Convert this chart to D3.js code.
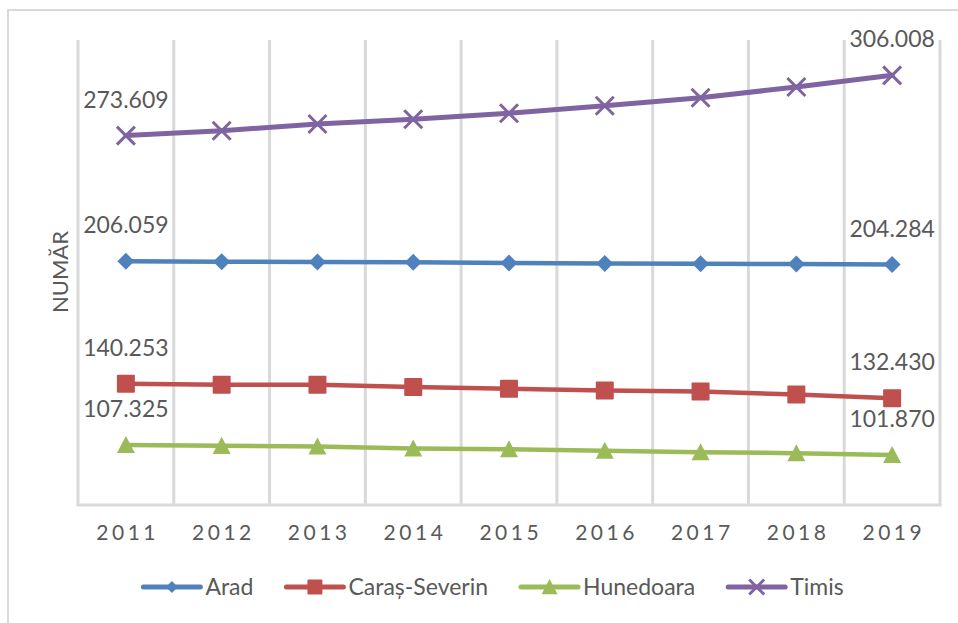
<!DOCTYPE html>
<html>
<head>
<meta charset="utf-8">
<script src="https://cdn.jsdelivr.net/npm/d3@7"></script>
<style>
  body { margin: 0; background: #ffffff; }
  text { font-family: Lato, "Liberation Sans", sans-serif; fill: #595959; }
</style>
</head>
<body>
<div id="chart"></div>
<script>

var years = ["2011","2012","2013","2014","2015","2016","2017","2018","2019"]

var arad       = [206059, 205806, 205644, 205483, 205106, 204838, 204730, 204569, 204284]
var carasSev   = [140253, 139677, 139623, 138440, 137473, 136559, 136021, 134408, 132430]
var hunedoara  = [107325, 106828, 106451, 105376, 105000, 104193, 103387, 102849, 101870]
var timis      = [273609, 276235, 279837, 282364, 285590, 289676, 293977, 299729, 306008]

var seriesNames = ["Arad", "Caraș-Severin", "Hunedoara", "Timis"]
var seriesValues = [arad, carasSev, hunedoara, timis]
var colors = ["#4F81BD", "#C0504D", "#9BBB59", "#8064A2"]
var markers = ["diamond", "square", "triangle", "cross"]

var yDomain = [75000, 325000]

var width = 958
var height = 623

var svg = d3.select("#chart")
  .append("svg")
  .attr("width", width)
  .attr("height", height)

svg.append("rect")
  .attr("width", width).attr("height", height)
  .attr("fill", "#ffffff")

// chart frame (runs off the right and bottom edges)
svg.append("rect")
  .attr("x", 8).attr("y", 10)
  .attr("width", 980).attr("height", 640)
  .attr("fill", "none")
  .attr("stroke", "#d9d9d9")
  .attr("stroke-width", 2)

var x = d3.scaleBand().domain(years).range([78, 940]).padding(0)
var y = d3.scaleLinear().domain(yDomain).range([505, 40])
var cx = function(yr){ return x(yr) + x.bandwidth()/2 }

var nf = d3.formatLocale({decimal: ",", thousands: ".", grouping: [3], currency: ["", ""]}).format(",d")

// vertical gridlines between categories
var gridX = years.map(function(d){ return x(d) }).concat([x.range()[1]])
svg.append("g").selectAll("line")
  .data(gridX)
  .enter()
  .append("line")
  .attr("x1", function(d){ return d }).attr("x2", function(d){ return d })
  .attr("y1", y.range()[1]).attr("y2", y.range()[0])
  .attr("stroke", "#d9d9d9")
  .attr("stroke-width", 3)

svg.append("line")
  .attr("x1", x.range()[0] - 1.5).attr("x2", x.range()[1] + 1.5)
  .attr("y1", y.range()[0]).attr("y2", y.range()[0])
  .attr("stroke", "#d9d9d9")
  .attr("stroke-width", 3)

// category labels
svg.append("g").selectAll("text")
  .data(years)
  .enter()
  .append("text")
  .attr("x", function(d){ return cx(d) + 1.75 })
  .attr("y", 540)
  .attr("text-anchor", "middle")
  .style("font-size", "21px")
  .style("letter-spacing", "3.5px")
  .text(function(d){ return d })

svg.append("text")
  .attr("transform", "translate(68,272) rotate(-90)")
  .attr("text-anchor", "middle")
  .style("font-size", "22px")
  .text("NUMĂR")

function drawMarker(g, type, color, s) {
  if (type == "diamond") {
    g.append("path")
      .attr("d", "M0," + (-s) + "L" + s + ",0L0," + s + "L" + (-s) + ",0Z")
      .attr("fill", color)
  } else if (type == "square") {
    g.append("rect")
      .attr("x", -s).attr("y", -s).attr("width", 2*s).attr("height", 2*s)
      .attr("rx", 1)
      .attr("fill", color)
  } else if (type == "triangle") {
    g.append("path")
      .attr("d", "M0," + (-s) + "L" + s + "," + (s*0.9) + "L" + (-s) + "," + (s*0.9) + "Z")
      .attr("fill", color)
  } else {
    g.append("path")
      .attr("d", "M" + (-s) + "," + (-s) + "L" + s + "," + s + "M" + (-s) + "," + s + "L" + s + "," + (-s))
      .attr("stroke", color)
      .attr("stroke-width", 3)
      .attr("fill", "none")
  }
}

var markerSize = {diamond: 8.5, square: 9, triangle: 9, cross: 9}

var line = d3.line()
  .x(function(d, i){ return cx(years[i]) })
  .y(function(d){ return y(d) })

seriesValues.forEach(function(vals, si){
  var g = svg.append("g")

  g.append("path")
    .datum(vals)
    .attr("d", line)
    .attr("fill", "none")
    .attr("stroke", colors[si])
    .attr("stroke-width", si == 3 ? 5 : 4.5)
    .attr("stroke-linejoin", "round")
    .attr("stroke-linecap", "round");

  vals.forEach(function(v, i){
    var m = g.append("g").attr("transform", "translate(" + cx(years[i]) + "," + y(v) + ")")
    drawMarker(m, markers[si], colors[si], markerSize[markers[si]])
  });

  // data labels only on the first and last year
  var ends = [0, vals.length - 1]
  ends.forEach(function(i){
    g.append("text")
      .attr("x", cx(years[i]))
      .attr("y", y(vals[i]) - 28)
      .attr("text-anchor", "middle")
      .style("font-size", "23px")
      .text(nf(vals[i]))
  })
})

// legend
var legend = svg.append("g")
var lx = 0
seriesNames.forEach(function(name, si){
  var item = legend.append("g")
  item.append("line")
    .attr("x1", 0).attr("x2", 57)
    .attr("y1", 0).attr("y2", 0)
    .attr("stroke", colors[si])
    .attr("stroke-width", 5)
    .attr("stroke-linecap", "round")
  var m = item.append("g").attr("transform", "translate(28.5,0)")
  var s = {diamond: 6, square: 7.5, triangle: 8, cross: 7.5}[markers[si]]
  drawMarker(m, markers[si], colors[si], s)
  var t = item.append("text")
    .attr("x", 62)
    .attr("y", 8)
    .style("font-size", "23px")
    .text(name)
  var w = 62 + t.node().getComputedTextLength()
  item.attr("transform", "translate(" + lx + ",0)")
  lx += w + 33
})
var legendWidth = lx - 33
legend.attr("transform", "translate(" + (493.5 - legendWidth/2) + ",587)")

</script>
</body>
</html>
